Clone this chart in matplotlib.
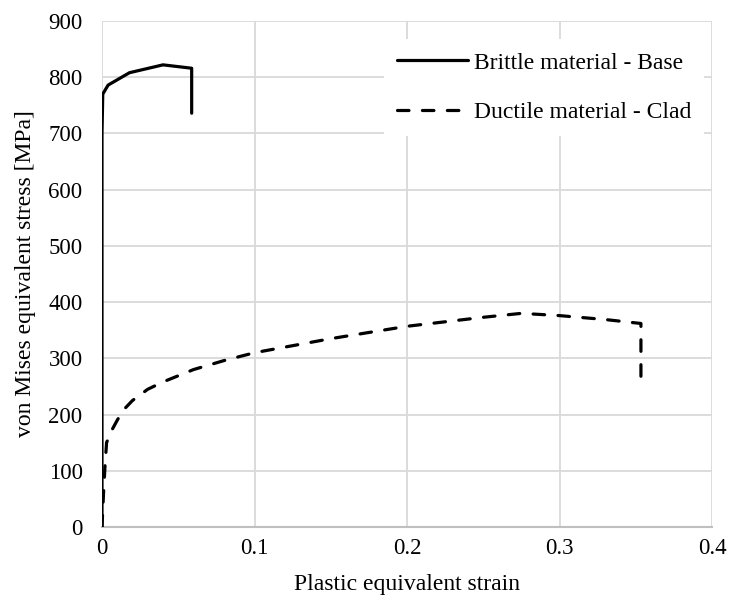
import matplotlib
matplotlib.use("Agg")
import matplotlib.pyplot as plt

plt.rcParams['font.family'] = ['Liberation Serif', 'DejaVu Serif']

brittle_strain = [0.0, 0.0, 0.0005, 0.004, 0.018, 0.040, 0.0588, 0.0588]
brittle_stress = [0, 700, 770, 786, 808, 822, 816, 736]

ductile_strain = [0.0, 0.001, 0.002, 0.003, 0.006, 0.010, 0.014, 0.020, 0.030, 0.040,
                  0.060, 0.080, 0.100, 0.150, 0.200, 0.250, 0.275, 0.300, 0.330, 0.3534, 0.3534]
ductile_stress = [0, 60, 110, 150, 170, 190, 208, 225, 245, 258,
                  280, 296, 310, 335, 357, 373, 380, 376, 369, 362, 258]

xticks = [0, 0.1, 0.2, 0.3, 0.4]
xticklabels = ['0', '0.1', '0.2', '0.3', '0.4']
yticks = list(range(0, 901, 100))

fig = plt.figure(figsize=(7.32, 6.03), dpi=100)
ax = fig.add_axes([102/732, 1-527/603, 610/732, 506/603])

ax.plot(brittle_strain, brittle_stress, color='black', lw=2.3,
        solid_capstyle='round', solid_joinstyle='round', label='Brittle material - Base', zorder=3)
ax.plot(ductile_strain, ductile_stress, color='black', lw=2.3, dashes=(3.6, 4.2),
        dash_capstyle='round', label='Ductile material - Clad', zorder=3)

ax.set_xlim(0, 0.4)
ax.set_ylim(0, 900)
ax.set_xticks(xticks)
ax.set_xticklabels(xticklabels)
ax.set_yticks(yticks)
ax.grid(True, color='#d9d9d9', lw=1.3)
ax.set_axisbelow(True)
for s in ['top', 'right', 'left']:
    ax.spines[s].set_visible(False)
ax.spines['bottom'].set_color('#bfbfbf')
ax.spines['bottom'].set_linewidth(1.5)
ax.tick_params(axis='y', length=0, labelsize=16.5, pad=14)
ax.tick_params(axis='x', length=0, labelsize=16.5, pad=8)
ax.set_xlabel('Plastic equivalent strain', fontsize=17, labelpad=11)
ax.set_ylabel('von Mises equivalent stress [MPa]', fontsize=17, labelpad=9)

leg = ax.legend(loc='upper right', bbox_to_anchor=(0.987, 0.964), borderaxespad=0,
                fontsize=17, frameon=True, fancybox=False, edgecolor='none',
                facecolor='white', framealpha=1, handlelength=3.0,
                handletextpad=0.25, labelspacing=1.18, borderpad=0.55)

fig.savefig('out.png', dpi=100)
